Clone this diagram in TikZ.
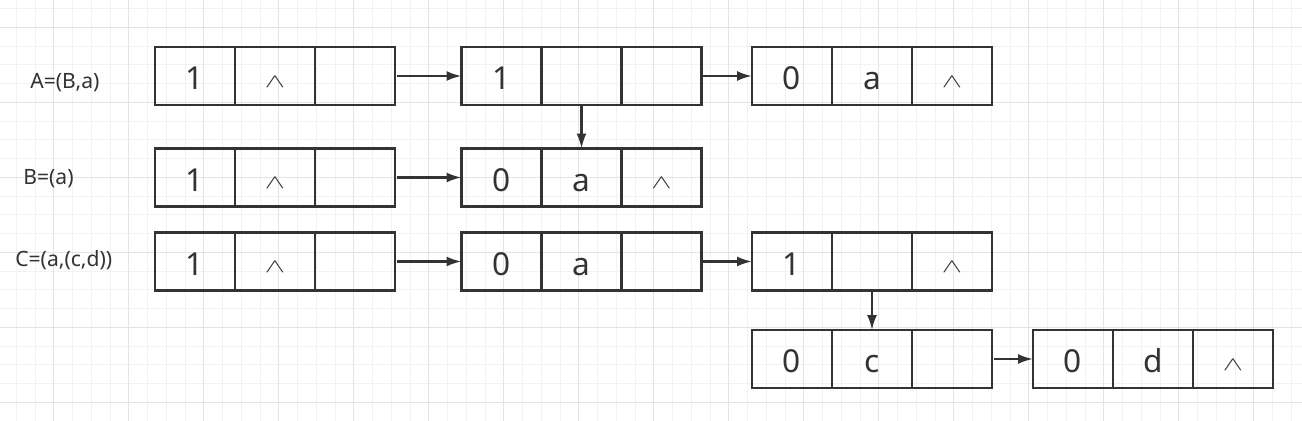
\documentclass[tikz,border=0pt]{standalone}
\usepackage{fontspec}
\setmainfont{Noto Sans}
\usetikzlibrary{arrows.meta,positioning}
\definecolor{ink}{HTML}{333333}
\definecolor{gridminor}{HTML}{F2F2F2}
\definecolor{gridmajor}{HTML}{E4E4E4}
\tikzset{
  cell/.style={draw=ink, line width=1.3pt, outer sep=0pt, inner sep=0pt,
    minimum width=1.6cm, minimum height=1.16cm, text=ink,
    text height=0.56cm, text depth=0cm, font=\fontsize{18}{20}\selectfont},
  listname/.style={anchor=base west, text=ink, inner sep=0pt,
    font=\fontsize{12}{14}\selectfont},
  arr/.style={-{Latex[length=0.3cm,width=0.2cm]}, line width=1.3pt, draw=ink},
  minorline/.style={draw=gridminor, line width=0.55pt},
  majorline/.style={draw=gridmajor, line width=0.55pt}
}
\newcommand\nil{\raisebox{1.7pt}{\scalebox{1}[0.65]{\fontsize{18}{20}\selectfont$\wedge$}}}

\begin{document}
\begin{tikzpicture}[x=0.02cm, y=-0.02cm]

  % ---- page and grid ----
  \useasboundingbox[fill=white] (0,0) rectangle (1302,421);
  \begin{scope}
    \clip (0,0) rectangle (1302,421);
    \foreach \k in {0,...,69} \draw[minorline] ({16.3+18.75*\k},0) -- ++(0,421);
    \foreach \k in {0,...,22} \draw[minorline] (0,{8.5+18.75*\k}) -- ++(1302,0);
    \foreach \k in {0,...,16} \draw[majorline] ({53.8+75*\k},0) -- ++(0,421);
    \foreach \k in {0,...,5} \draw[majorline] (0,{27.3+75*\k}) -- ++(1302,0);
  \end{scope}

  % ---- list names ----
  \node[listname] (nameA) at (30,89) {A=(B,a)};
  \node[listname] (nameB) at (23,185) {B=(a)};
  \node[listname] (nameC) at (15,266.5) {C=(a,(c,d))};

  % ---- A row ----
  \node[cell] (a1l) at (195,76) {1};
  \node[cell, right=0cm of a1l] (a1m) {\nil};
  \node[cell, right=0cm of a1m] (a1r) {};

  \node[cell] (a2l) at (501.5,76) {1};
  \node[cell, right=0cm of a2l] (a2m) {};
  \node[cell, right=0cm of a2m] (a2r) {};

  \node[cell] (a3l) at (792,76) {0};
  \node[cell, right=0cm of a3l] (a3m) {a};
  \node[cell, right=0cm of a3m] (a3r) {\nil};

  % ---- B row ----
  \node[cell] (b1l) at (195,177.5) {1};
  \node[cell, right=0cm of b1l] (b1m) {\nil};
  \node[cell, right=0cm of b1m] (b1r) {};

  \node[cell] (b2l) at (501.5,177.5) {0};
  \node[cell, right=0cm of b2l] (b2m) {a};
  \node[cell, right=0cm of b2m] (b2r) {\nil};

  % ---- C row, with the (c,d) sublist below ----
  \node[cell] (c1l) at (195,261.5) {1};
  \node[cell, right=0cm of c1l] (c1m) {\nil};
  \node[cell, right=0cm of c1m] (c1r) {};

  \node[cell] (c2l) at (501.5,261.5) {0};
  \node[cell, right=0cm of c2l] (c2m) {a};
  \node[cell, right=0cm of c2m] (c2r) {};

  \node[cell] (c3l) at (792,261.5) {1};
  \node[cell, right=0cm of c3l] (c3m) {};
  \node[cell, right=0cm of c3m] (c3r) {\nil};

  \node[cell] (d1l) at (792,359) {0};
  \node[cell, right=0cm of d1l] (d1m) {c};
  \node[cell, right=0cm of d1m] (d1r) {};

  \node[cell] (d2l) at (1073,359) {0};
  \node[cell, right=0cm of d2l] (d2m) {d};
  \node[cell, right=0cm of d2m] (d2r) {\nil};

  % ---- links ----
  \draw[arr, shorten <=1pt] (a1r.east) -- (a2l.west);
  \draw[arr, shorten <=1pt] (a2r.east) -- (a3l.west);
  \draw[arr] (a2m.south) -- (b2m.north);
  \draw[arr, shorten <=1pt] (b1r.east) -- (b2l.west);
  \draw[arr, shorten <=1pt] (c1r.east) -- (c2l.west);
  \draw[arr, shorten <=1pt] (c2r.east) -- (c3l.west);
  \draw[arr] (c3m.south) -- (d1m.north);
  \draw[arr, shorten <=1pt] (d1r.east) -- (d2l.west);

\end{tikzpicture}
\end{document}
